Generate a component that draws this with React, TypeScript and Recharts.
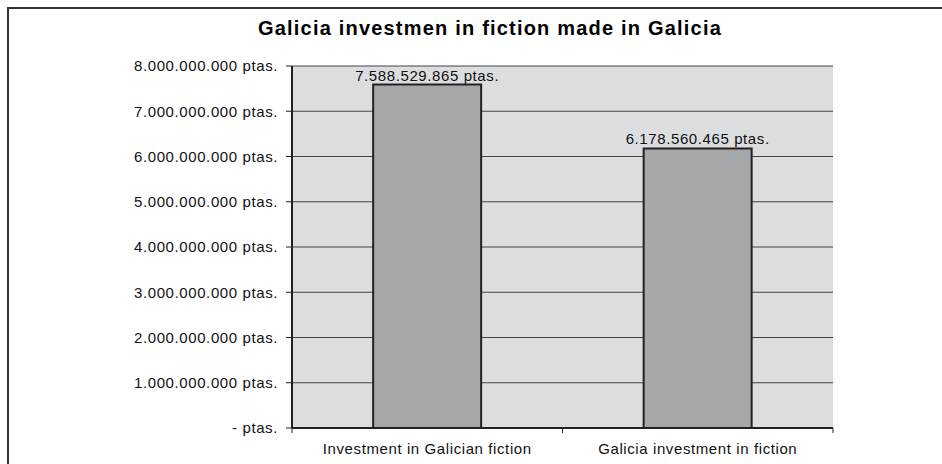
import React from "react";
import { BarChart, Bar, XAxis, YAxis, CartesianGrid, LabelList } from "recharts";

const categories = ["Investment in Galician fiction", "Galicia investment in fiction"];
const values = [7588529865, 6178560465];
const yTicks = [0, 1000000000, 2000000000, 3000000000, 4000000000, 5000000000, 6000000000, 7000000000, 8000000000];
const title = "Galicia investmen in fiction made in Galicia";

const data = categories.map((name, i) => ({ name, value: values[i] }));

const FONT = "'Liberation Sans', Arial, sans-serif";
const FS = 15;
const LS = 0.6;

function fmt(v: number): string {
  if (v === 0) return "- ptas.";
  const s = Math.round(v).toString().replace(/\B(?=(\d{3})+(?!\d))/g, ".");
  return s + " ptas.";
}

const XTick = (props: any) => {
  const { x, y, payload } = props;
  const half = payload && payload.offset ? payload.offset : 135;
  return (
    <g>
      <line x1={x - half} y1={y - 8} x2={x - half} y2={y - 3} stroke="#222" strokeWidth={1} />
      <line x1={x + half} y1={y - 8} x2={x + half} y2={y - 3} stroke="#222" strokeWidth={1} />
      <text x={x} y={y + 18} textAnchor="middle" fontSize={FS} letterSpacing={LS} fontFamily={FONT} fill="#111">
        {payload.value}
      </text>
    </g>
  );
};

const ValueLabel = (props: any) => {
  const { x, y, width, value } = props;
  return (
    <text x={Number(x) + Number(width) / 2} y={Number(y) - 4} textAnchor="middle" fontSize={FS} letterSpacing={LS} fontFamily={FONT} fill="#111">
      {fmt(Number(value))}
    </text>
  );
};

export default function App() {
  return (
    <div style={{ position: "absolute", left: 0, top: 0, width: 942, height: 464, overflow: "hidden", background: "#fff" }}>
      <div
        style={{
          position: "absolute",
          left: 7,
          top: 7,
          width: 960,
          height: 480,
          border: "2px solid #333",
          boxSizing: "border-box",
        }}
      />
      <div
        style={{
          position: "absolute",
          left: 0,
          top: 18,
          width: 980,
          textAlign: "center",
          fontFamily: FONT,
          fontWeight: "bold",
          fontSize: 20,
          letterSpacing: 1.2,
          lineHeight: "20px",
          color: "#000",
          whiteSpace: "nowrap",
        }}
      >
        {title}
      </div>
      <div style={{ position: "absolute", left: 0, top: 0 }}>
        <BarChart
          width={942}
          height={464}
          data={data}
          margin={{ top: 66, right: 109, bottom: 0, left: 92 }}
          barCategoryGap="30%"
        >
          <CartesianGrid vertical={false} stroke="#444" strokeWidth={1} fill="#dcdddf" fillOpacity={1} />
          <XAxis
            dataKey="name"
            height={36}
            axisLine={{ stroke: "#222", strokeWidth: 2 }}
            tickLine={false}
            tick={<XTick />}
            interval={0}
          />
          <XAxis xAxisId="top" orientation="top" dataKey="name" height={0} tick={false} tickLine={false} axisLine={{ stroke: "#222", strokeWidth: 2 }} />
          <YAxis
            width={200}
            domain={[0, 8000000000]}
            ticks={yTicks}
            interval={0}
            tickFormatter={fmt}
            axisLine={{ stroke: "#222", strokeWidth: 2 }}
            tickLine={{ stroke: "#222" }}
            tickSize={6}
            tickMargin={8}
            tick={{ fontSize: FS, fontFamily: FONT, fill: "#111", letterSpacing: LS }}
          />
          <YAxis yAxisId="right" orientation="right" width={0} tick={false} tickLine={false} axisLine={{ stroke: "#222", strokeWidth: 2 }} domain={[0, 8000000000]} />
          <Bar dataKey="value" fill="#a6a7a9" stroke="#222" strokeWidth={2} isAnimationActive={false}>
            <LabelList dataKey="value" content={<ValueLabel />} />
          </Bar>
        </BarChart>
      </div>
    </div>
  );
}
